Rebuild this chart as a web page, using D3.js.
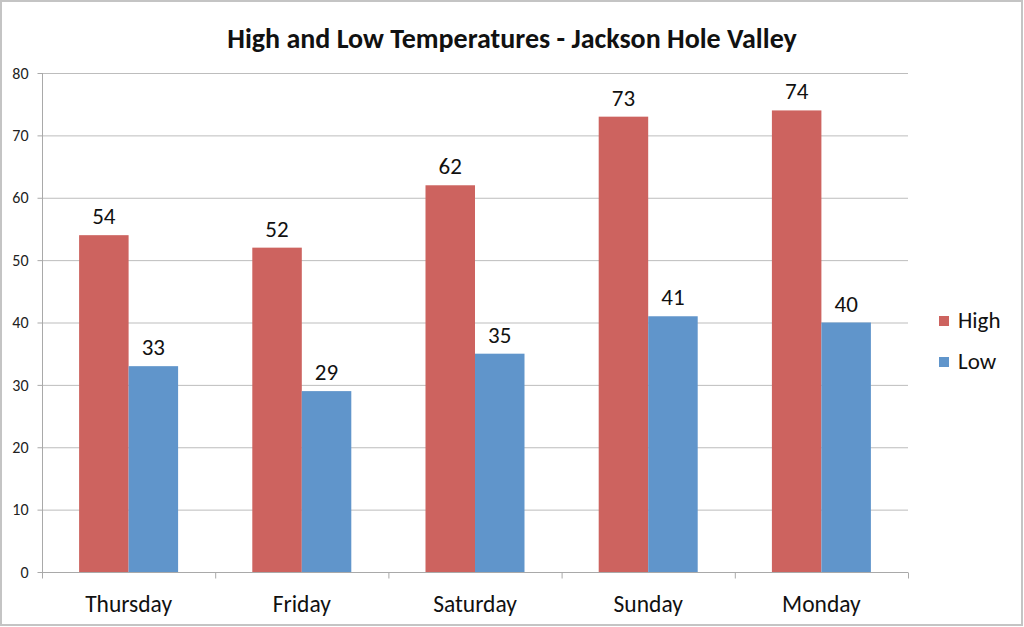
<!DOCTYPE html>
<html><head><meta charset="utf-8">
<script src="https://cdn.jsdelivr.net/npm/d3@7"></script>
<style>body{margin:0;background:#fff}svg{display:block;font-family:Carlito,Lato,"Open Sans",sans-serif}</style>
</head><body><svg id="c" width="1024" height="627"></svg>
<script>
const categories = ["Thursday","Friday","Saturday","Sunday","Monday"];
const seriesNames = ["High","Low"];
const highValues = [54,52,62,73,74];
const lowValues = [33,29,35,41,40];
const yTicks = [0,10,20,30,40,50,60,70,80];
const colors = {High:"#CD635F", Low:"#6095CB"};

const svg = d3.select("#c");
svg.append("rect").attr("x",1).attr("y",1).attr("width",1021).attr("height",624)
  .attr("fill","#fff").attr("stroke","#c4c4c4").attr("stroke-width",2);

const m = {l:42, r:908, t:73, b:572};
const x = d3.scaleBand().domain(categories).range([m.l,m.r]);
const y = d3.scaleLinear().domain([0,80]).range([m.b,m.t]);
const barW = 49.5;
const inner = d3.scaleBand().domain(seriesNames).range([x.bandwidth()/2-barW, x.bandwidth()/2+barW]);

// gridlines
svg.append("g").selectAll("line").data(yTicks.filter(d=>d>0)).join("line")
  .attr("x1",m.l).attr("x2",m.r).attr("y1",d=>y(d)+0.5).attr("y2",d=>y(d)+0.5)
  .attr("stroke","#bdbdbd").attr("stroke-width",1);

// y axis
const ya = svg.append("g").attr("transform",`translate(${m.l+0.5},0)`)
  .call(d3.axisLeft(y).tickValues(yTicks).tickSize(5).tickPadding(9));
ya.select(".domain").attr("stroke","#a9a9a9").attr("d",`M0,${m.t}V${m.b+6}`);
ya.selectAll(".tick line").attr("stroke","#a9a9a9");
ya.selectAll(".tick text").attr("font-size",16).attr("fill","#222").attr("font-family","Carlito,Lato,sans-serif");

// bars
const data = categories.map((c,i)=>({cat:c, High:highValues[i], Low:lowValues[i]}));
const groups = svg.append("g").selectAll("g").data(data).join("g")
  .attr("transform",d=>`translate(${x(d.cat)},0)`);
groups.selectAll("rect").data(d=>seriesNames.map(s=>({s, v:d[s]}))).join("rect")
  .attr("x",d=>inner(d.s)).attr("width",inner.bandwidth())
  .attr("y",d=>y(d.v)).attr("height",d=>y(0)-y(d.v))
  .attr("fill",d=>colors[d.s]);
groups.selectAll("text").data(d=>seriesNames.map(s=>({s, v:d[s]}))).join("text")
  .attr("x",d=>inner(d.s)+inner.bandwidth()/2).attr("y",d=>y(d.v)-11)
  .attr("text-anchor","middle").attr("font-size",23).attr("fill","#111").text(d=>d.v);

// x axis
const xa = svg.append("g").attr("transform",`translate(0,${m.b+0.5})`);
xa.append("line").attr("x1",m.l).attr("x2",m.r).attr("stroke","#a9a9a9");
const bounds = categories.map(c=>x(c)).concat([m.r]);
xa.selectAll("line.tk").data(bounds).join("line").attr("class","tk")
  .attr("x1",d=>d+0.5).attr("x2",d=>d+0.5).attr("y1",0).attr("y2",6).attr("stroke","#a9a9a9");
xa.selectAll("text").data(categories).join("text")
  .attr("x",d=>x(d)+x.bandwidth()/2).attr("y",39).attr("text-anchor","middle")
  .attr("font-size",23.5).attr("fill","#111").text(d=>d);

// title
svg.append("text").attr("x",512).attr("y",48).attr("text-anchor","middle")
  .attr("font-size",28).attr("font-weight","bold").attr("fill","#111")
  .text("High and Low Temperatures - Jackson Hole Valley");

// legend
const lg = svg.append("g").selectAll("g").data(seriesNames).join("g")
  .attr("transform",(d,i)=>`translate(939,${316+i*41})`);
lg.append("rect").attr("width",10).attr("height",10).attr("fill",d=>colors[d]);
lg.append("text").attr("x",19).attr("y",12).attr("font-size",23).attr("fill","#111").text(d=>d);
</script></body></html>
